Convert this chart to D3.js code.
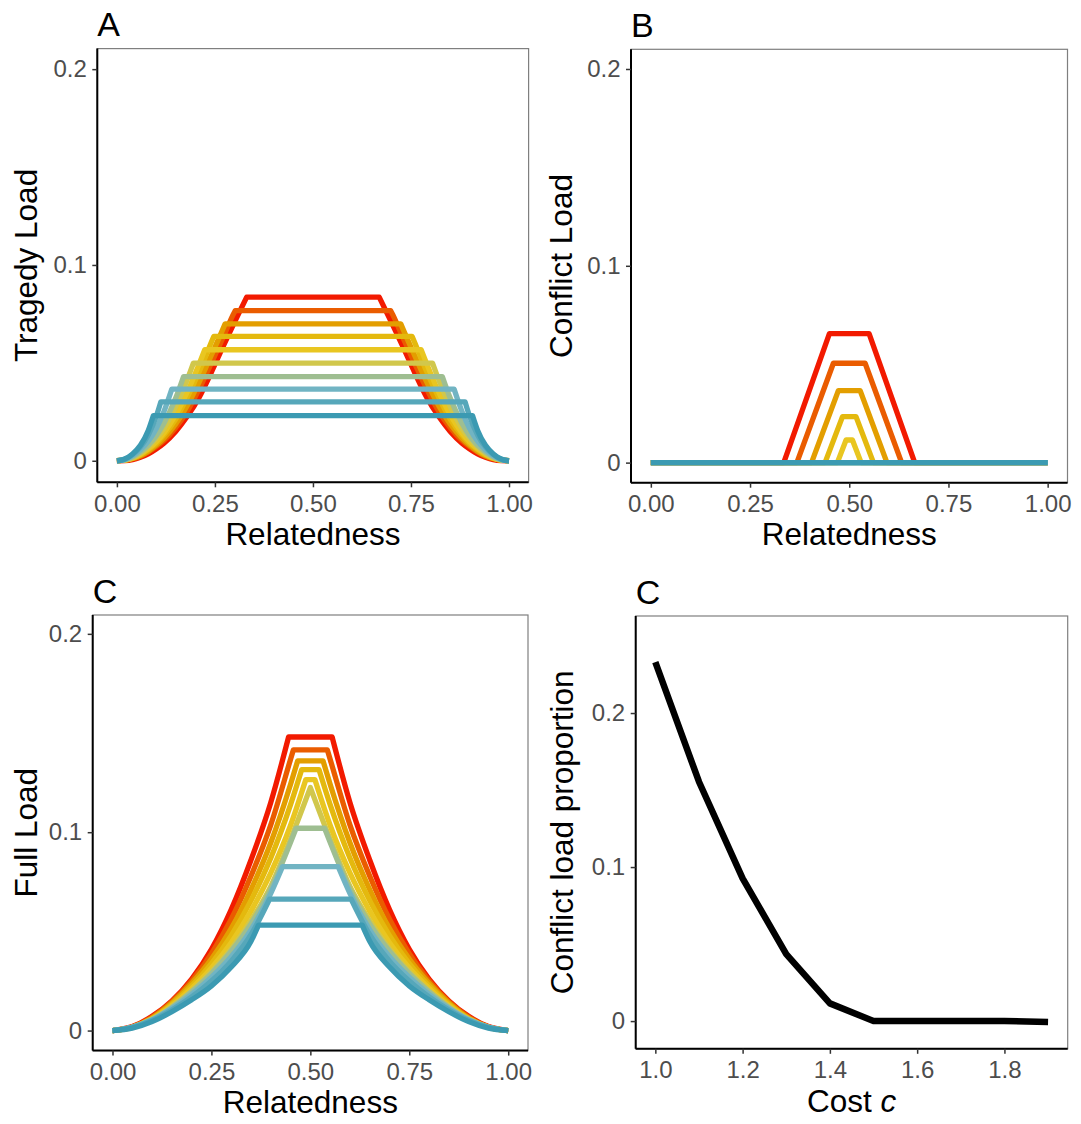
<!DOCTYPE html>
<html>
<head>
<meta charset="utf-8">
<script src="https://cdn.jsdelivr.net/npm/d3@7"></script>
<style>
  body { margin: 0; background: #fff; }
  svg { display: block; }
</style>
</head>
<body>
<svg id="fig" width="1081" height="1124"></svg>
<script>
// ---- data ----
const costs = [1.0, 1.1, 1.2, 1.3, 1.4, 1.5, 1.6, 1.7, 1.8, 1.9];
// one colour per cost, red (c = 1.0) to teal (c = 1.9)
const costColors = ["#F21A00", "#EA5C00", "#E39E00", "#E4B90E", "#E9C621",
                    "#D1C74C", "#9EBE91", "#71B4C3", "#56A7BA", "#3B9AB2"];

// A: tragedy load, rising flank read at relGridA, then flat from corner to 1 - corner
const relGridA = [0, 0.02, 0.04, 0.06, 0.08, 0.10, 0.12, 0.15, 0.18, 0.21, 0.24, 0.27, 0.30];
const tragedyRise = [
  [0, 0.0001, 0.0006, 0.0018, 0.0035, 0.0060, 0.0090, 0.0150, 0.0228, 0.0325, 0.0448, 0.0580, 0.0708],
  [0, 0.0003, 0.0010, 0.0023, 0.0045, 0.0072, 0.0104, 0.0170, 0.0255, 0.0367, 0.0495, 0.0626, 0.0760],
  [0, 0.0003, 0.0012, 0.0026, 0.0049, 0.0079, 0.0116, 0.0188, 0.0284, 0.0403, 0.0535, 0.0671],
  [0, 0.0003, 0.0013, 0.0031, 0.0057, 0.0088, 0.0131, 0.0213, 0.0326, 0.0456, 0.0601],
  [0, 0.0003, 0.0014, 0.0034, 0.0062, 0.0097, 0.0143, 0.0235, 0.0354, 0.0496],
  [0, 0.0004, 0.0016, 0.0040, 0.0070, 0.0113, 0.0166, 0.0278, 0.0418],
  [0, 0.0005, 0.0020, 0.0046, 0.0080, 0.0127, 0.0192, 0.0320],
  [0, 0.0006, 0.0026, 0.0056, 0.0100, 0.0164, 0.0252],
  [0, 0.0008, 0.0032, 0.0071, 0.0132, 0.0225],
  [0, 0.0009, 0.0035, 0.0079, 0.0155]
];
const tragedyCorner = [0.331, 0.302, 0.276, 0.247, 0.224, 0.195, 0.170, 0.140, 0.112, 0.093];
const tragedyPlateau = [0.0836, 0.0767, 0.0699, 0.0635, 0.0567, 0.0499, 0.0430, 0.0366, 0.0301, 0.0231];

// B: conflict load, trapezoids (zero for the higher costs)
const conflictFoot = [0.335, 0.368, 0.405, 0.439, 0.470];
const conflictShoulder = [0.450, 0.460, 0.4725, 0.483, 0.492];
const conflictPeak = [0.0655, 0.0505, 0.0366, 0.0234, 0.0115, 0, 0, 0, 0, 0];

// C: full load, rising flank read at relGridC, then flat from corner to 1 - corner
const relGridC = [0, 0.05, 0.10, 0.15, 0.20, 0.25, 0.30, 0.35, 0.40, 0.45];
const fullRise = [
  [0, 0.0020, 0.0072, 0.0150, 0.0260, 0.0410, 0.0610, 0.0860, 0.1150],
  [0, 0.0018, 0.0067, 0.0145, 0.0250, 0.0388, 0.0561, 0.0779, 0.1037, 0.1368],
  [0, 0.0017, 0.0063, 0.0139, 0.0238, 0.0360, 0.0514, 0.0711, 0.0947, 0.1242],
  [0, 0.0017, 0.0061, 0.0133, 0.0225, 0.0338, 0.0479, 0.0655, 0.0870, 0.1139],
  [0, 0.0017, 0.0058, 0.0126, 0.0213, 0.0316, 0.0443, 0.0602, 0.0795, 0.1035],
  [0, 0.0016, 0.0055, 0.0119, 0.0200, 0.0297, 0.0412, 0.0554, 0.0727, 0.0965],
  [0, 0.0017, 0.0056, 0.0117, 0.0195, 0.0287, 0.0400, 0.0538, 0.0713, 0.0949],
  [0, 0.0017, 0.0054, 0.0111, 0.0183, 0.0269, 0.0372, 0.0508, 0.0692],
  [0, 0.0017, 0.0051, 0.0104, 0.0170, 0.0250, 0.0350, 0.0483],
  [0, 0.0012, 0.0045, 0.0095, 0.0155, 0.0225, 0.0320, 0.0450]
];
const fullCorner = [0.445, 0.457, 0.468, 0.478, 0.4885, 0.5, 0.464, 0.4295, 0.397, 0.369];
const fullPlateau = [0.148, 0.1415, 0.136, 0.1315, 0.1265, 0.1225, 0.102, 0.0826, 0.0663, 0.0532];

// D: conflict load proportion against cost
const conflictShare = [0.233, 0.1554, 0.0926, 0.0435, 0.0115, 0, 0, 0, 0, -0.0006];

const relTicks = [0, 0.25, 0.5, 0.75, 1];
const loadTicks = [0, 0.1, 0.2];
const costTicks = [1.0, 1.2, 1.4, 1.6, 1.8];

// ---- drawing ----
const FONT = "'Liberation Sans', Arial, sans-serif";
const svg = d3.select("#fig").attr("font-family", FONT);
svg.append("rect").attr("width", 1081).attr("height", 1124).attr("fill", "#fff");

const loadFmt = d => d === 0 ? "0" : String(d);

function panel(o) {
  const x = d3.scaleLinear(o.xDomain, [o.left, o.right]);
  const y = d3.scaleLinear(o.yDomain, [o.bottom, o.top]);
  const g = svg.append("g");

  const marks = g.append("g");

  // grey panel border (top / right show), black axis lines drawn over it
  g.append("rect")
   .attr("x", o.left).attr("y", o.top)
   .attr("width", o.right - o.left).attr("height", o.bottom - o.top)
   .attr("fill", "none").attr("stroke", "#7f7f7f").attr("stroke-width", 1.2);

  const yAxis = g.append("g")
    .attr("transform", `translate(${o.left},0)`)
    .call(d3.axisLeft(y).tickValues(o.yTicks).tickFormat(o.yFmt)
            .tickSize(5).tickSizeOuter(0).tickPadding(5.5));
  const xAxis = g.append("g")
    .attr("transform", `translate(0,${o.bottom})`)
    .call(d3.axisBottom(x).tickValues(o.xTicks).tickFormat(o.xFmt)
            .tickSize(5).tickSizeOuter(0).tickPadding(7.4));

  [yAxis, xAxis].forEach(a => {
    a.attr("font-family", FONT).attr("font-size", 24);
    a.select(".domain").attr("stroke", "#000").attr("stroke-width", 2);
    a.selectAll(".tick line").attr("stroke", "#333").attr("stroke-width", 1.5);
    a.selectAll(".tick text").attr("fill", "#4D4D4D");
  });
  // keep the axis lines spanning the whole panel edge
  yAxis.select(".domain").attr("d", `M0,${o.top}V${o.bottom}`);
  xAxis.select(".domain").attr("d", `M${o.left},0H${o.right}`);

  // axis titles
  const xt = g.append("text")
    .attr("x", (o.left + o.right) / 2).attr("y", o.bottom + 62.7)
    .attr("text-anchor", "middle").attr("font-size", 31.5).attr("fill", "#000");
  if (Array.isArray(o.xTitle)) {
    xt.append("tspan").text(o.xTitle[0]);
    xt.append("tspan").attr("font-style", "italic").text(o.xTitle[1]);
  } else xt.text(o.xTitle);

  g.append("text")
   .attr("transform", `translate(${o.titleX},${(o.top + o.bottom) / 2}) rotate(-90)`)
   .attr("text-anchor", "middle").attr("font-size", 31.5).attr("fill", "#000")
   .text(o.yTitle);

  // panel tag
  g.append("text")
   .attr("x", o.left).attr("y", o.top - 12.4)
   .attr("font-size", 34).attr("fill", "#000")
   .text(o.tag);

  return { marks, x, y };
}

function drawPaths(p, paths, colors, width) {
  p.marks.selectAll("path")
    .data(paths)
    .join("path")
    .attr("d", d => d)
    .attr("fill", "none")
    .attr("stroke", (d, i) => colors[i])
    .attr("stroke-width", width)
    .attr("stroke-linejoin", "round")
    .attr("stroke-linecap", "butt");
}

// smooth rising flank up to the corner, flat top, mirrored falling flank
function plateauPath(p, grid, vals, corner, top) {
  const flank = d3.line().x(d => p.x(d[0])).y(d => p.y(d[1])).curve(d3.curveMonotoneX);
  const left = vals.map((v, j) => [grid[j], v]);
  left.push([corner, top]);
  const right = left.map(([r, v]) => [1 - r, v]).reverse();
  return flank(left) + flank(right).replace(/^M/, "L");
}

const straight = p => d3.line().x(d => p.x(d[0])).y(d => p.y(d[1]));
const relFmt = d3.format(".2f");

// A
const pA = panel({
  left: 97.3, right: 528.6, top: 48.6, bottom: 482.3, titleX: 36.8,
  xDomain: [-0.05, 1.05], yDomain: [-0.011, 0.2105],
  xTicks: relTicks, xFmt: relFmt, yTicks: loadTicks, yFmt: loadFmt,
  xTitle: "Relatedness", yTitle: "Tragedy Load", tag: "A"
});
drawPaths(pA, tragedyRise.map((v, i) =>
  plateauPath(pA, relGridA, v, tragedyCorner[i], tragedyPlateau[i])), costColors, 5.3);

// B
const pB = panel({
  left: 631, right: 1067.5, top: 49.3, bottom: 482.7, titleX: 572,
  xDomain: [-0.05, 1.05], yDomain: [-0.0102, 0.21],
  xTicks: relTicks, xFmt: relFmt, yTicks: loadTicks, yFmt: loadFmt,
  xTitle: "Relatedness", yTitle: "Conflict Load", tag: "B"
});
drawPaths(pB, conflictPeak.map((h, i) => straight(pB)(h > 0
  ? [[0, 0], [conflictFoot[i], 0], [conflictShoulder[i], h],
     [1 - conflictShoulder[i], h], [1 - conflictFoot[i], 0], [1, 0]]
  : [[0, 0], [1, 0]])), costColors, 5.3);

// C
const pC = panel({
  left: 92.7, right: 528, top: 615, bottom: 1050.6, titleX: 36.8,
  xDomain: [-0.05, 1.05], yDomain: [-0.0101, 0.2095],
  xTicks: relTicks, xFmt: relFmt, yTicks: loadTicks, yFmt: loadFmt,
  xTitle: "Relatedness", yTitle: "Full Load", tag: "C"
});
drawPaths(pC, fullRise.map((v, i) =>
  plateauPath(pC, relGridC, v, fullCorner[i], fullPlateau[i])), costColors, 5.3);

// D
const pD = panel({
  left: 635.7, right: 1067.7, top: 616, bottom: 1048.8, titleX: 573,
  xDomain: [0.955, 1.945], yDomain: [-0.018, 0.263],
  xTicks: costTicks, xFmt: d3.format(".1f"), yTicks: loadTicks, yFmt: loadFmt,
  xTitle: ["Cost ", "c"], yTitle: "Conflict load proportion", tag: "C"
});
drawPaths(pD, [straight(pD)(costs.map((c, i) => [c, conflictShare[i]]))], ["#000"], 6.5);
</script>
</body>
</html>
